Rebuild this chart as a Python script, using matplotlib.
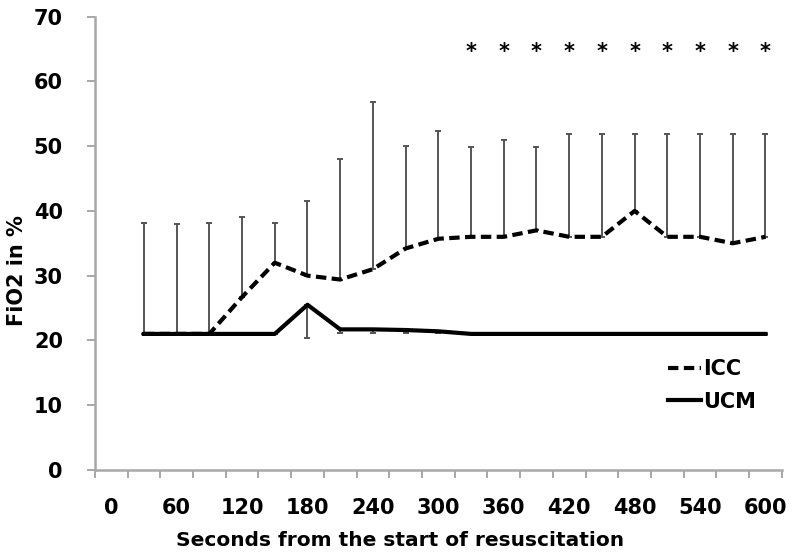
import numpy as np
import matplotlib.pyplot as plt

# --- data ---
seconds = [0, 30, 60, 90, 120, 150, 180, 210, 240, 270, 300, 330, 360, 390,
           420, 450, 480, 510, 540, 570, 600]
icc = [np.nan, 21, 21, 21, 26.7, 32, 30, 29.4, 31, 34.2, 35.7, 36, 36, 37,
       36, 36, 40, 36, 36, 35, 36]
icc_sd_top = [np.nan, 38.2, 38.0, 38.2, 39.0, 38.2, 41.6, 48.0, 56.9, 50.1, 52.3,
              49.9, 50.9, 49.9, 51.9, 51.9, 51.9, 51.9, 51.9, 51.9, 51.9]
ucm = [np.nan, 21, 21, 21, 21, 21, 25.5, 21.7, 21.7, 21.6, 21.4, 21, 21, 21,
       21, 21, 21, 21, 21, 21, 21]
ucm_sd_low = [np.nan, 21, 21, 21, 21, 21, 20.4, 21.2, 21.2, 21.2, 21.1, 21, 21, 21,
              21, 21, 21, 21, 21, 21, 21]
signif = [330, 360, 390, 420, 450, 480, 510, 540, 570, 600]
star_y = 64.5

plt.rcParams['font.family'] = ['DejaVu Sans']
plt.rcParams['font.weight'] = 'bold'
fs = 15

x = np.arange(len(seconds))
icc = np.array(icc)
ucm = np.array(ucm)
up = np.array(icc_sd_top) - icc
low = ucm - np.array(ucm_sd_low)

fig = plt.figure(figsize=(7.97, 5.58), dpi=100)
ax = fig.add_axes([0.119, 0.158, 0.862, 0.812])

# error bars (SD), ICC upward, UCM downward
ax.errorbar(x, icc, yerr=[np.zeros_like(up), up], fmt='none',
            ecolor='#555555', elinewidth=1.4, capsize=2, capthick=1.4, zorder=2)
ax.errorbar(x, ucm, yerr=[low, np.zeros_like(low)], fmt='none',
            ecolor='#555555', elinewidth=1.4, capsize=2, capthick=1.4, zorder=2)

ax.plot(x, icc, color='black', lw=3, dashes=(2.5, 1.3), label='ICC', zorder=3)
ax.plot(x, ucm, color='black', lw=3, label='UCM', zorder=3)

# significance markers
sx = [seconds.index(s) for s in signif]
for xi in sx:
    ax.text(xi, star_y, '*', ha='center', va='center', fontsize=15,
            fontweight='bold')

ax.set_xlim(-0.5, len(seconds) - 0.5)
ax.set_ylim(0, 70)
ax.set_yticks(np.arange(0, 71, 10))
ax.set_xticks(x[::2])
ax.set_xticklabels([str(s) for s in seconds[::2]])
ax.set_xticks(np.arange(-0.5, len(seconds), 1), minor=True)
ax.tick_params(axis='x', which='major', length=0, pad=20, labelsize=fs)
ax.tick_params(axis='x', which='minor', length=6, color='#a0a0a0', width=1.3)
ax.tick_params(axis='y', length=6, color='#a0a0a0', width=1.3, pad=17, labelsize=fs)

for s in ['top', 'right']:
    ax.spines[s].set_visible(False)
for s in ['left', 'bottom']:
    ax.spines[s].set_color('#a8a8a8')
    ax.spines[s].set_linewidth(1.8)

ax.set_ylabel('FiO2 in %', fontsize=fs, fontweight='bold')
ax.yaxis.set_label_coords(-0.099, 0.44)
ax.set_xlabel('Seconds from the start of resuscitation', fontsize=14.5,
              fontweight='bold')
ax.xaxis.set_label_coords(0.444, -0.135)

ax.legend(loc='center left', bbox_to_anchor=(0.834, 0.1865), frameon=False,
          borderpad=0, borderaxespad=0,
          handlelength=1.6, handletextpad=0.1, labelspacing=0.6,
          prop={'size': fs, 'weight': 'bold'})

fig.savefig('out.png', dpi=100)
